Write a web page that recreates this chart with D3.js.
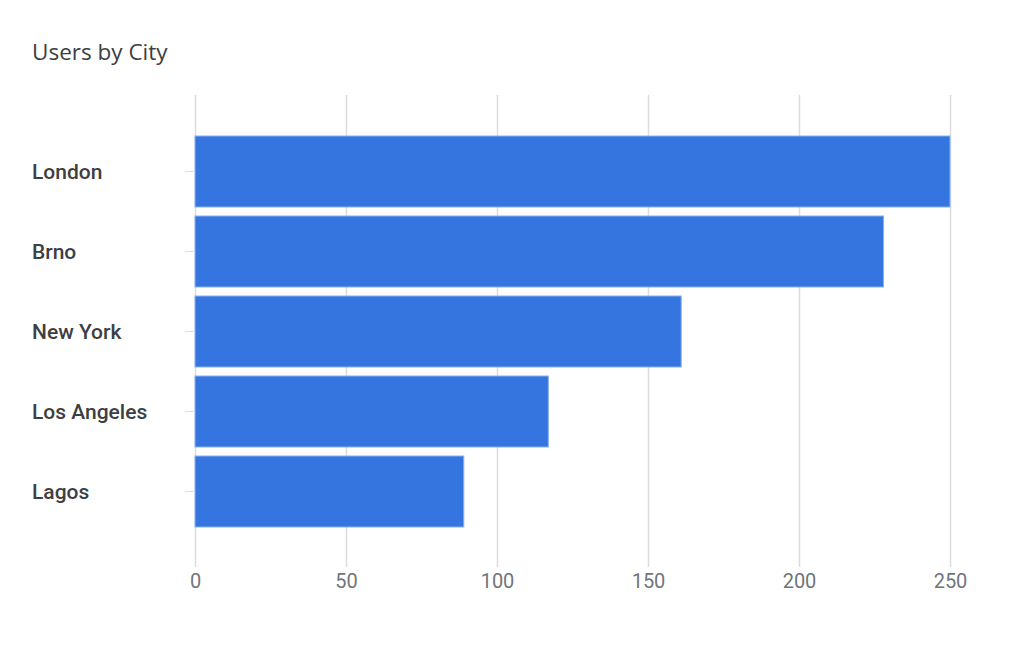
<!DOCTYPE html>
<html>
<head>
<meta charset="utf-8">
<script src="https://cdn.jsdelivr.net/npm/d3@7"></script>
<style>
  html, body { margin: 0; padding: 0; background: #fff; }
  svg { display: block; }
</style>
</head>
<body>
<svg id="chart" width="1024" height="665"></svg>
<script>
const title = "Users by City";
const cities = ["London", "Brno", "New York", "Los Angeles", "Lagos"];
const users = [250, 228, 161, 117, 89];
const xTicks = [0, 50, 100, 150, 200, 250];

const svg = d3.select("#chart");

const x = d3.scaleLinear().domain([0, 250]).range([195, 950]);
const y = d3.scaleBand().domain(cities).range([136, 527]).paddingInner(0.1125).paddingOuter(0);

svg.append("text")
  .attr("x", 32).attr("y", 60)
  .attr("font-family", "'Open Sans', Roboto, sans-serif")
  .attr("font-size", 22.5)
  .attr("fill", "#3c4043")
  .text(title);

// gridlines + x axis
const xAxis = d3.axisBottom(x).tickValues(xTicks).tickSize(-(567 - 95)).tickPadding(7).tickFormat(d3.format("d"));
const gx = svg.append("g").attr("transform", "translate(0,567)").call(xAxis);
gx.select(".domain").remove();
gx.selectAll(".tick line").attr("stroke", "#dadce0").attr("stroke-width", 1.5);
gx.selectAll(".tick text")
  .attr("font-family", "Roboto, sans-serif")
  .attr("font-size", 20)
  .attr("fill", "#70757a");

// y axis
const yAxis = d3.axisLeft(y).tickSize(9).tickPadding(0);
const gy = svg.append("g").attr("transform", "translate(194,0)").call(yAxis);
gy.select(".domain").remove();
gy.selectAll(".tick line").attr("stroke", "#dadce0").attr("stroke-width", 1);
gy.selectAll(".tick text")
  .attr("x", 32 - 194)
  .attr("dy", "0.37em")
  .attr("text-anchor", "start")
  .attr("font-family", "Roboto, sans-serif")
  .attr("font-weight", 500)
  .attr("font-size", 21)
  .attr("fill", "#3c4043");

// bars
svg.append("g").selectAll("rect").data(cities).join("rect")
  .attr("x", x(0))
  .attr("y", d => y(d))
  .attr("width", (d, i) => x(users[i]) - x(0))
  .attr("height", y.bandwidth())
  .attr("fill", "#3575e0")
  .attr("stroke", "#8cb0ef")
  .attr("stroke-width", 1);
</script>
</body>
</html>
